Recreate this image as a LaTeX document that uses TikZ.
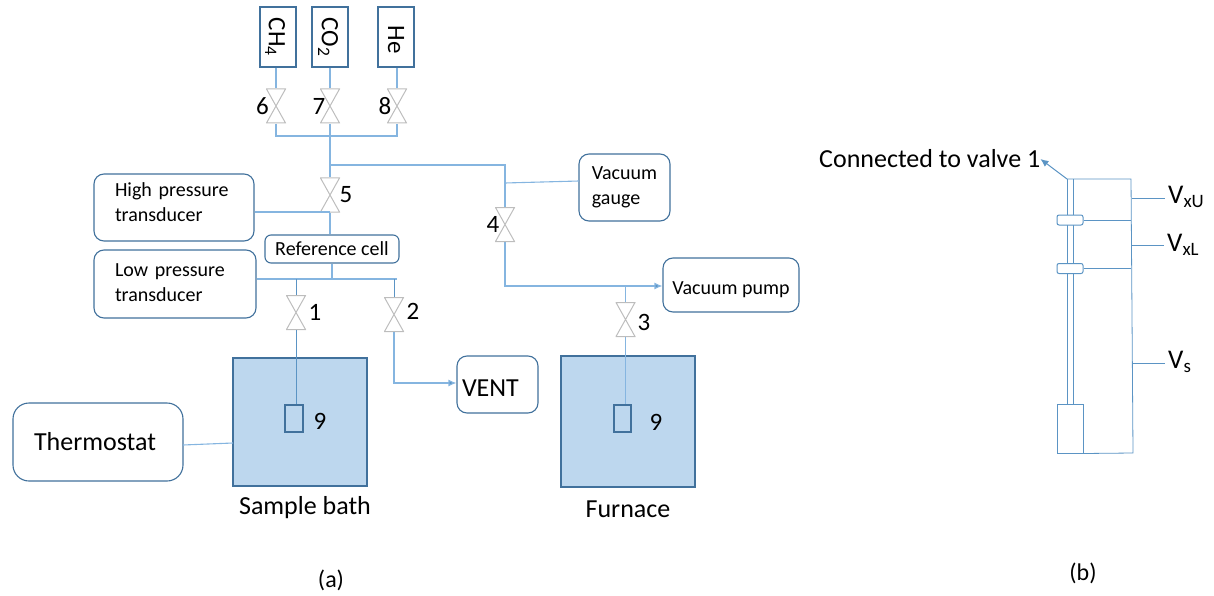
\documentclass[tikz,border=0pt]{standalone}
\usepackage{fontspec}
\setmainfont{Carlito}
\usetikzlibrary{arrows.meta}
\definecolor{pipe}{HTML}{85B5E0}
\definecolor{edgeblue}{HTML}{41719C}
\definecolor{fillb}{HTML}{BDD7EE}
\definecolor{vgray}{HTML}{BDBDBD}
\definecolor{sline}{HTML}{5B94C4}
\tikzset{
  x=1pt,y=-1pt,
  pipeline/.style={draw=pipe,line width=1.1pt},
  thinline/.style={draw=sline,line width=0.8pt},
  arrowed/.style={pipeline,-{Latex[length=8pt,width=7pt,fill=sline]}},
  gasbox/.style={draw=edgeblue,line width=1.2pt,minimum width=36pt,minimum height=60pt,inner sep=0pt,fill=white},
  gastext/.style={rotate=-90,font=\fontsize{25}{25}\selectfont,inner sep=0pt},
  rbox/.style={draw=edgeblue,line width=1.1pt,rounded corners=10pt,inner sep=0pt,fill=white,align=left},
  smalltext/.style={font=\fontsize{20}{25}\selectfont},
  bigtext/.style={font=\fontsize{26}{26}\selectfont},
  vessel/.style={draw=edgeblue,line width=1.2pt,fill=fillb,inner sep=0pt},
  num/.style={font=\fontsize{25}{25}\selectfont,inner sep=0pt},
  captext/.style={font=\fontsize{26}{26}\selectfont,inner sep=0pt},
  letter/.style={font=\fontsize{24}{24}\selectfont,inner sep=0pt},
  vlabel/.style={font=\fontsize{27}{27}\selectfont,inner sep=0pt,inner xsep=3pt,anchor=west},
  valve/.style={minimum width=20pt,minimum height=35pt,inner sep=0pt,
    path picture={\draw[vgray,line width=1pt,shift={(path picture bounding box.center)}]
      (-9.5,-17)--(9.5,17)--(-9.5,17)--(9.5,-17)--cycle;}},
  tube/.style={draw=sline,line width=1pt},
  collar/.style={draw=sline,line width=1pt,fill=white,rounded corners=2pt,minimum width=26pt,minimum height=10pt,inner sep=0pt},
  bulbbox/.style={draw=sline,line width=1pt,fill=white,minimum width=26pt,minimum height=49pt,inner sep=0pt},
}
\begin{document}
\begin{tikzpicture}
\useasboundingbox (0,0) rectangle (1214,596);
% gas cylinders
\node[gasbox] (ch4) at (278,37) {}; \node[gastext] (tch4) at (275,37) {CH\textsubscript{4}};
\node[gasbox] (co2) at (330,37) {}; \node[gastext] (tco2) at (328,37) {CO\textsubscript{2}};
\node[gasbox] (he) at (396,37) {};  \node[gastext] (the) at (396,40) {He};
% valves
\node[valve] (v6) at (276,106) {};
\node[valve] (v7) at (330,106) {};
\node[valve] (v8) at (397,106) {};
\node[valve] (v5) at (330,195) {};
\node[valve] (v4) at (505,224.5) {};
\node[valve] (v3) at (625.5,319.5) {};
\node[valve] (v1) at (296,312.5) {};
\node[valve] (v2) at (394,314.5) {};
\node[num] (l6) at (262.5,106) {6};
\node[num] (l7) at (319,106) {7};
\node[num] (l8) at (385,106) {8};
\node[num] (l5) at (346,195) {5};
\node[num] (l4) at (493,224) {4};
\node[num] (l3) at (644,322) {3};
\node[num] (l1) at (315,312) {1};
\node[num] (l2) at (413,311) {2};
% boxes
\node[rbox,smalltext,minimum width=160pt,minimum height=67pt,inner xsep=21pt,text width=118pt] (hp) at (174,207.5) {High pressure\\transducer\rule[-10pt]{0pt}{10pt}};
\node[rbox,smalltext,minimum width=162pt,minimum height=68pt,inner xsep=21pt,text width=120pt] (lp) at (175,284) {Low pressure\\transducer\rule[-3pt]{0pt}{3pt}};
\node[rbox,smalltext,rounded corners=6pt,minimum width=134pt,minimum height=28pt] (ref) at (332,249) {Reference cell};
\node[rbox,smalltext,minimum width=91pt,minimum height=67pt] (gauge) at (624.5,187.5) {Vacuum\\gauge};
\node[rbox,smalltext,minimum width=136pt,minimum height=54pt] (pump) at (731,285) {\rule{0pt}{22pt}Vacuum pump};
\node[rbox,bigtext,minimum width=81pt,minimum height=57pt,inner xsep=5pt,text width=71pt] (vent) at (497.5,384.5) {\rule{0pt}{24pt}VENT};
\node[rbox,bigtext,rounded corners=16pt,minimum width=170pt,minimum height=78pt,inner xsep=21pt,text width=128pt] (thermo) at (98,442) {Thermostat};
% vessels
\node[vessel,minimum width=134pt,minimum height=128pt] (bath) at (300,422) {};
\node[vessel,minimum width=134pt,minimum height=131pt] (furn) at (628,421.5) {};
\node[vessel,minimum width=18pt,minimum height=27pt] (s1) at (294,418.5) {};
\node[vessel,minimum width=17pt,minimum height=27pt] (s2) at (622.5,418.5) {};
\node[num] (n9a) at (320,421) {9};
\node[num] (n9b) at (656,422) {9};
\node[captext] (tbath) at (305,508) {Sample bath};
\node[captext] (tfurn) at (628,509) {Furnace};
\node[letter] (ta) at (331,580) {(a)};
\node[letter] (tb) at (1083,573) {(b)};
% junctions
\coordinate (m6) at (276,136); \coordinate (m8) at (397,136);
\coordinate (j5) at (330,165);
\coordinate (c4) at (505,165); \coordinate (jg) at (505,183);
\coordinate (gw) at (579,181);
\coordinate (jh) at (330,212); \coordinate (jr) at (333,279);
\coordinate (j1) at (296,279); \coordinate (j2) at (394,279);
\coordinate (e2) at (397,279);
\coordinate (c2) at (394,383); \coordinate (c5) at (505,286);
\coordinate (j3) at (625.5,286);
\coordinate (th1) at (183,445); \coordinate (th2) at (233,443);
% pipes
\draw[pipeline] (ch4.south -| v6) -- (v6.north);
\draw[pipeline] (co2.south -| v7) -- (v7.north);
\draw[pipeline] (he.south -| v8) -- (v8.north);
\draw[pipeline] (v6.south) -- (m6) -- (m8) -- (v8.south);
\draw[pipeline] (v7.south) -- (j5) -- (v5.north);
\draw[pipeline] (j5) -- (c4) -- (v4.north);
\draw[pipeline] (jg) -- (gw);
\draw[arrowed] (v4.south) -- (c5) -- (j3) -- (pump.west |- j3);
\draw[pipeline] (j3) -- (v3.north);
\draw[pipeline] (v3.south) -- (s2.north -| v3);
\draw[pipeline] (hp.east |- jh) -- (jh);
\draw[pipeline] (v5.south) -- (ref.north -| v5);
\draw[pipeline] (lp.east |- jr) -- (e2);
\draw[pipeline] (jr) -- (ref.south |- jr) -- (ref.south);
\draw[thinline] (j1) -- (v1.north);
\draw[thinline] (j2) -- (v2.north);
\draw[thinline] (v1.south) -- (s1.north -| v1);
\draw[arrowed] (v2.south) -- (c2) -- (vent.west |- c2);
\draw[pipeline] (th1) -- (th2);
% panel (b)
\node[captext,anchor=west] (conn) at (819,159) {Connected to valve 1};
\node[bulbbox] (bulb) at (1070,428.5) {};
\coordinate (t1) at (1067,179); \coordinate (t2) at (1073,179);
\coordinate (top) at (1131,179); \coordinate (bot) at (1133,453);
\draw[tube] (t1) -- (t1 |- bulb.north);
\draw[tube] (t2) -- (t2 |- bulb.north);
\node[collar] (c1) at (1070,220) {};
\node[collar] (cc2) at (1070,268.5) {};
\draw[thinline] (t1) -- (top) -- (bot) -- (bulb.south east);
\draw[thinline] (c1.east) -- (c1.east -| top);
\draw[thinline] (cc2.east) -- (cc2.east -| top);
\draw[tube,-{Latex[length=8pt,width=7pt,fill=sline]}] (t1) -- (conn.east);
\node[vlabel] (vxu) at (1165,197) {V\textsubscript{xU}};
\node[vlabel] (vxl) at (1164,245) {V\textsubscript{xL}};
\node[vlabel] (vs) at (1165,362) {V\textsubscript{s}};
\coordinate (k1) at (1132,198); \coordinate (k2) at (1132,245); \coordinate (k3) at (1133,363);
\draw[thinline] (k1) -- (vxu.west |- k1);
\draw[thinline] (k2) -- (vxl.west |- k2);
\draw[thinline] (k3) -- (vs.west |- k3);
\end{tikzpicture}
\end{document}
